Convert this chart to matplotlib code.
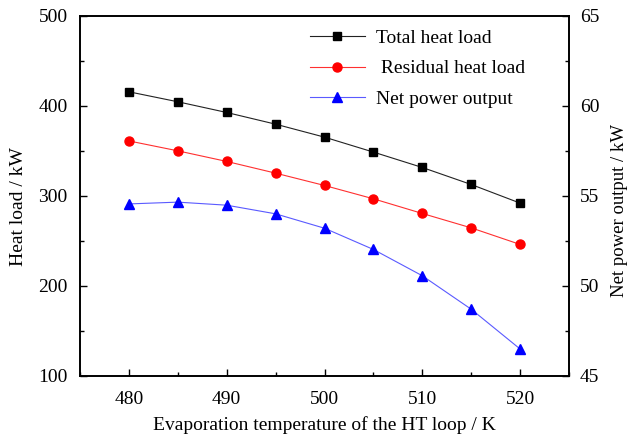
import matplotlib
matplotlib.use("Agg")
import matplotlib.pyplot as plt
from matplotlib.ticker import MultipleLocator

# evaporation temperature vs heat load / net power (two y axes)

plt.rcParams['font.family'] = ['Liberation Serif', 'DejaVu Serif']
plt.rcParams['mathtext.fontset'] = 'stix'

temps = [480, 485, 490, 495, 500, 505, 510, 515, 520]
totalHeat = [415.6, 404.5, 392.6, 379.6, 365.2, 348.6, 331.5, 312.6, 291.9]
residualHeat = [361.0, 350.0, 338.2, 325.2, 311.5, 296.7, 280.4, 264.4, 246.0]
netPower = [54.55, 54.65, 54.48, 54.0, 53.2, 52.02, 50.56, 48.7, 46.49]

fig = plt.figure(figsize=(6.33, 4.36), dpi=100)
ax = fig.add_axes([0.1264, 0.138, 0.7725, 0.8257])
ax2 = ax.twinx()

l1, = ax.plot(temps, totalHeat, color='#222222', lw=0.8, marker='s', ms=6,
              mfc='black', mec='black', label='Total heat load')
l2, = ax.plot(temps, residualHeat, color='#ff3030', lw=0.8, marker='o', ms=6.5,
              mfc='red', mec='red', label=' Residual heat load')
l3, = ax2.plot(temps, netPower, color='#5a5aff', lw=0.8, marker='^', ms=7.5,
               mfc='blue', mec='blue', label='Net power output')

ax.set_xlim(475, 525)
ax.set_ylim(100, 500)
ax2.set_ylim(45, 65)

ax.xaxis.set_major_locator(MultipleLocator(10))
ax.xaxis.set_minor_locator(MultipleLocator(5))
ax.yaxis.set_major_locator(MultipleLocator(100))
ax.yaxis.set_minor_locator(MultipleLocator(50))
ax2.yaxis.set_major_locator(MultipleLocator(5))
ax2.yaxis.set_minor_locator(MultipleLocator(2.5))

for a in (ax, ax2):
  a.tick_params(which='major', direction='in', length=5, width=1, labelsize=14)
  a.tick_params(which='minor', direction='in', length=3, width=1)
  for s in a.spines.values():
    s.set_linewidth(1.2)
ax.tick_params(axis='x', which='major', pad=11)
ax.tick_params(axis='y', which='major', pad=9)
ax2.tick_params(axis='y', which='major', pad=8)

ax.set_xlabel('Evaporation temperature of the HT loop / K', fontsize=14, labelpad=6)
ax.set_ylabel('Heat load / kW', fontsize=14, labelpad=8)
ax2.set_ylabel('Net power output / kW', fontsize=13.5, labelpad=8)
ax.yaxis.label.set_y(0.47)
ax2.yaxis.label.set_y(0.46)

leg = ax.legend(handles=[l1, l2, l3], loc='upper left',
                bbox_to_anchor=(0.434, 1.012), frameon=False, fontsize=14,
                handlelength=2.85, handletextpad=0.55, labelspacing=0.68)

fig.savefig('out.png', dpi=100)
